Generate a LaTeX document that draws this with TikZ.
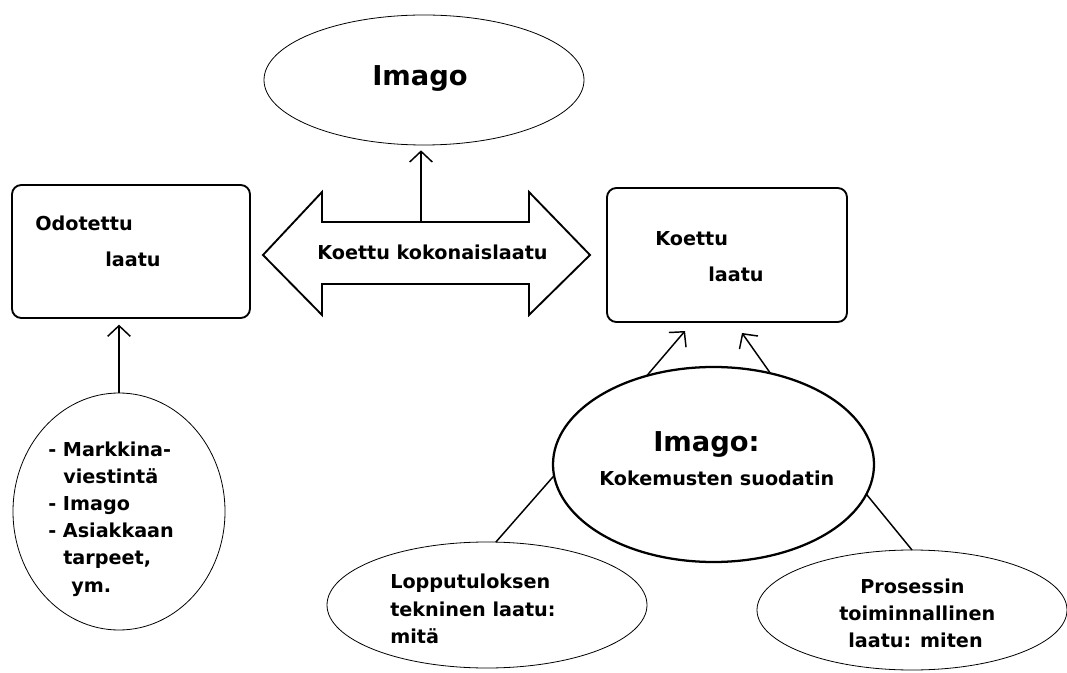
\documentclass[tikz,border=0pt]{standalone}
\usepackage{fontspec}
\setmainfont{DejaVu Sans}
\usetikzlibrary{shapes.geometric,arrows.meta}
\begin{document}
\begin{tikzpicture}[x=0.75pt,y=-0.75pt,
  thinell/.style={draw, ellipse, line width=0.6pt, inner sep=0pt, outer sep=0pt},
  boxnode/.style={draw, rectangle, rounded corners=7pt, line width=1.4pt, inner sep=0pt, outer sep=0pt},
  txt/.style={anchor=base west, inner sep=0pt, font=\fontsize{14.4}{16}\selectfont\bfseries},
  bigtxt/.style={anchor=base west, inner sep=0pt, font=\fontsize{20.5}{24}\selectfont\bfseries},
  conn/.style={line width=1.1pt},
  arr/.style={line width=1.1pt, -{Straight Barb[length=8pt,width=17pt,line width=1.1pt]}}
]
\useasboundingbox (0,0) rectangle (1067,673);

% top ellipse
\node[thinell, minimum width=240pt, minimum height=97.5pt] (imagotop) at (424,80) {};
\node[bigtxt] (timagotop) at (372,86) {Imago};

% left box
\node[boxnode, minimum width=178.5pt, minimum height=99.75pt] (odot) at (131,251.5) {};
\node[txt] (todot1) at (35,231) {Odotettu};
\node[txt] (todot2) at (105,267) {laatu};

% right box
\node[boxnode, minimum width=180pt, minimum height=100.5pt] (koettu) at (727,255) {};
\node[txt] (tkoet1) at (655,246) {Koettu};
\node[txt] (tkoet2) at (708,282) {laatu};

% double arrow
\draw[line width=1.4pt, line join=miter]
  (263,255) -- (322,192) -- (322,222) -- (529,222) -- (529,192) -- (590,255)
  -- (529,315) -- (529,284) -- (322,284) -- (322,315) -- cycle;
\coordinate (datop) at (421,222);
\node[txt] (tkok) at (317,260) {Koettu kokonaislaatu};
\draw[arr] (datop) -- ([yshift=-4pt]datop |- imagotop.south);

% left ellipse
\node[thinell, minimum width=159pt, minimum height=177.75pt] (leftell) at (119,511.5) {};
\node[txt] (tl1) at (48,456) {- Markkina-};
\node[txt] (tl2) at (63,483) {viestintä};
\node[txt] (tl3) at (48,510) {- Imago};
\node[txt] (tl4) at (48,537) {- Asiakkaan};
\node[txt] (tl5) at (63,564) {tarpeet,};
\node[txt] (tl6) at (71,592) {ym.};
\draw[arr] (leftell.north) -- ([yshift=-5pt]odot.south -| leftell.north);

% big ellipse
\node[draw, ellipse, line width=1.7pt, inner sep=0pt, outer sep=0pt,
      minimum width=240.75pt, minimum height=146.25pt] (filter) at (713.5,464.5) {};
\node[bigtxt] (tfil1) at (653,451) {Imago:};
\node[txt] (tfil2) at (599,485) {Kokemusten suodatin};
\coordinate (endA) at (685,331);
\coordinate (endB) at (742,333);
\draw[arr] (filter.127.6) -- (endA);
\draw[arr] (filter.58.2) -- (endB);

% lower-left ellipse
\node[thinell, minimum width=240pt, minimum height=94.5pt] (tekn) at (487,605) {};
\node[txt] (tt1) at (390,588) {Lopputuloksen};
\node[txt] (tt2) at (390,616) {tekninen laatu:};
\node[txt] (tt3) at (390,643) {mitä};

% lower-right ellipse
\node[thinell, minimum width=232.5pt, minimum height=90pt] (toim) at (912,610) {};
\node[txt] (tp1) at (860,593) {Prosessin};
\node[txt] (tp2) at (839,620) {toiminnallinen};
\node[txt] (tp3) at (848,647) {laatu: miten};

\draw[conn] (filter.184.5) -- (tekn.82);
\draw[conn] (filter.349.5) -- (toim.north);
\end{tikzpicture}
\end{document}
